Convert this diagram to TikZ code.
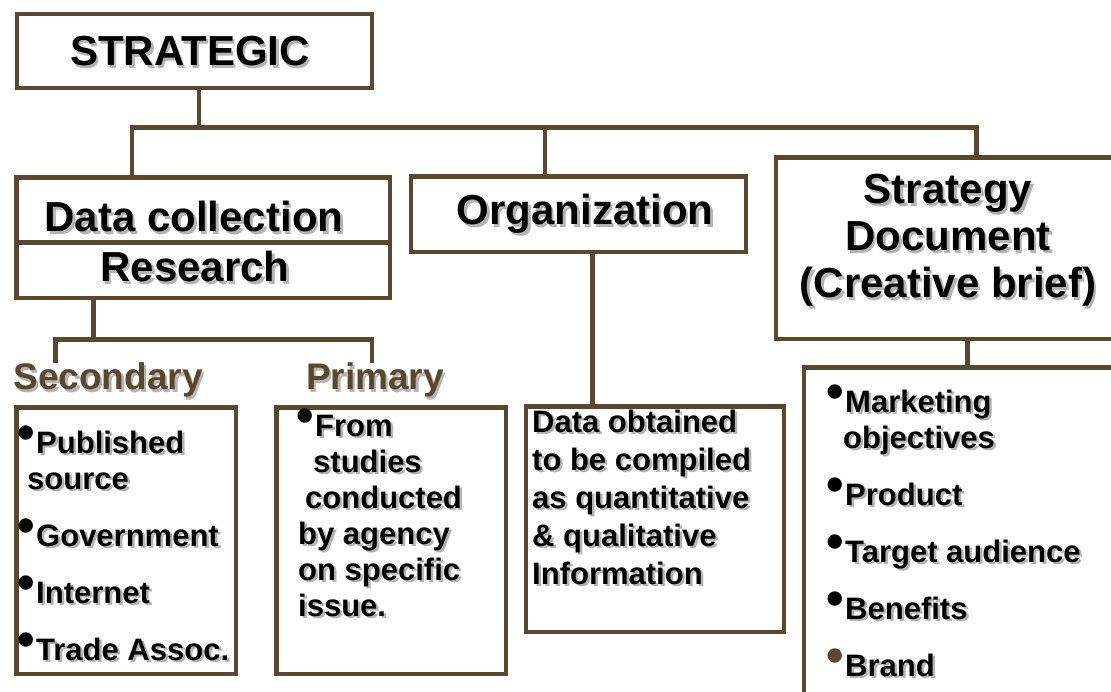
\documentclass[tikz,border=0pt]{standalone}
\usepackage{fontspec}
\setmainfont{Liberation Sans}
\definecolor{bline}{RGB}{91,70,46}
\definecolor{shadowgray}{RGB}{180,180,180}
\newcommand{\shd}[1]{\leavevmode\rlap{\kern2.5pt\raisebox{-2.5pt}{\color{shadowgray}#1}}#1}
\newcommand{\bul}[1][black]{\makebox[17pt][l]{\hspace*{-2pt}\raisebox{4pt}[0pt][0pt]{\fontsize{50}{50}\selectfont\color{#1}•}}}
\tikzset{
    every node/.style={inner sep=0pt, font=\bfseries}
}
\tikzset{
    box/.style={rectangle, draw=bline, line width=4.5pt, fill=white},
    conn/.style={draw=bline, line width=4.5pt},
    head/.style={font=\bfseries\fontsize{42}{47}\selectfont, align=center},
    sub/.style={font=\bfseries\fontsize{37}{40}\selectfont, text=bline},
    items/.style={font=\bfseries\fontsize{31}{36}\selectfont, align=left, anchor=north west}
}

\begin{document}
\begin{tikzpicture}[x=1pt, y=-1pt]
  \useasboundingbox (0,0) rectangle (1111,692);
  \clip (0,0) rectangle (1111,692);

  \node (stratbox) [box, minimum width=355pt, minimum height=74pt] at (194.5,51) {};
  \node (datacol) [box, minimum width=373.5pt, minimum height=65pt] at (203.25,210) {};
  \node (research) [box, minimum width=373.5pt, minimum height=55.5pt] at (203.25,270.25) {};
  \node (organ) [box, minimum width=335pt, minimum height=75.5pt] at (578.5,214.25) {};
  \node (strategy) [box, minimum width=349pt, minimum height=181.5pt] at (950.5,248.25) {};

  \node (second) [box, minimum width=219.5pt, minimum height=266.5pt] at (126.25,540.75) {};
  \node (primbox) [box, minimum width=229.5pt, minimum height=266.5pt] at (391.25,540.75) {};
  \node (middle) [box, minimum width=258pt, minimum height=225.5pt] at (655,519.25) {};
  \node (brief) [box, minimum width=326pt, minimum height=352.5pt] at (967,543.75) {};

  \node (strattxt) [head, anchor=base] at (190,66) {\shd{STRATEGIC}};
  \node (datatxt) [head, anchor=base] at (194,232) {\shd{Data collection}};
  \node (restxt) [head, anchor=base] at (195,282) {\shd{Research}};
  \node (orgtxt) [head, anchor=base] at (585,225) {\shd{Organization}};
  \node (doctxt) [head, anchor=north] at (948,174) {\shd{Strategy}\\\shd{Document}\\\shd{(Creative brief)}};

  \node (seclab) [sub, anchor=base] at (108,390) {\shd{Secondary}};
  \node (primlab) [sub, anchor=base] at (375,390) {\shd{Primary}};

  \node (seclist) [items] at (19,430.5) {\bul\shd{Published}\\\hspace*{8pt}\shd{source}\\[21pt]
    \bul\shd{Government}\\[21pt]\bul\shd{Internet}\\[21pt]\bul\shd{Trade Assoc.}};
  \node (primlist) [items] at (298,414.5) {\bul\shd{From}\\\hspace*{15pt}\shd{studies}\\
    \hspace*{7pt}\shd{conducted}\\\shd{by agency}\\\shd{on specific}\\\shd{issue.}};
  \node (midlist) [items, font=\bfseries\fontsize{31}{38}\selectfont] at (532,409.5) {\shd{Data obtained}\\
    \shd{to be compiled}\\\shd{as quantitative}\\\shd{\& qualitative}\\\shd{Information}};
  \node (brieflist) [items] at (828,389.5) {\bul\shd{Marketing}\\\hspace*{15pt}\shd{objectives}\\[21pt]
    \bul\shd{Product}\\[21pt]\bul\shd{Target audience}\\[21pt]\bul\shd{Benefits}\\[21pt]
    \bul[bline]\shd{Brand}};

  \coordinate (busL) at (132,127.5);
  \coordinate (busR) at (976.5,127.5);
  \coordinate (jS) at (199,127.5);
  \coordinate (jO) at (545,127.5);
  \coordinate (jM) at (592.5,300);
  \coordinate (jD) at (93.5,339.5);
  \coordinate (jL) at (55.3,339.5);
  \coordinate (jR) at (372,339.5);
  \coordinate (jB) at (967.5,360);

  \draw[conn] (stratbox.south -| jS) -- (jS);
  \draw[conn] (datacol.north -| busL) -- (busL) -- (busR) -- (strategy.north -| busR);
  \draw[conn] (jO) -- (organ.north -| jO);
  \draw[conn] (organ.south -| jM) -- (middle.north -| jM);
  \draw[conn] (research.south -| jD) -- (jD);
  \draw[conn] (seclab.north -| jL) -- (jL) -- (jR) -- (primlab.north -| jR);
  \draw[conn] (strategy.south -| jB) -- (brief.north -| jB);
\end{tikzpicture}
\end{document}
